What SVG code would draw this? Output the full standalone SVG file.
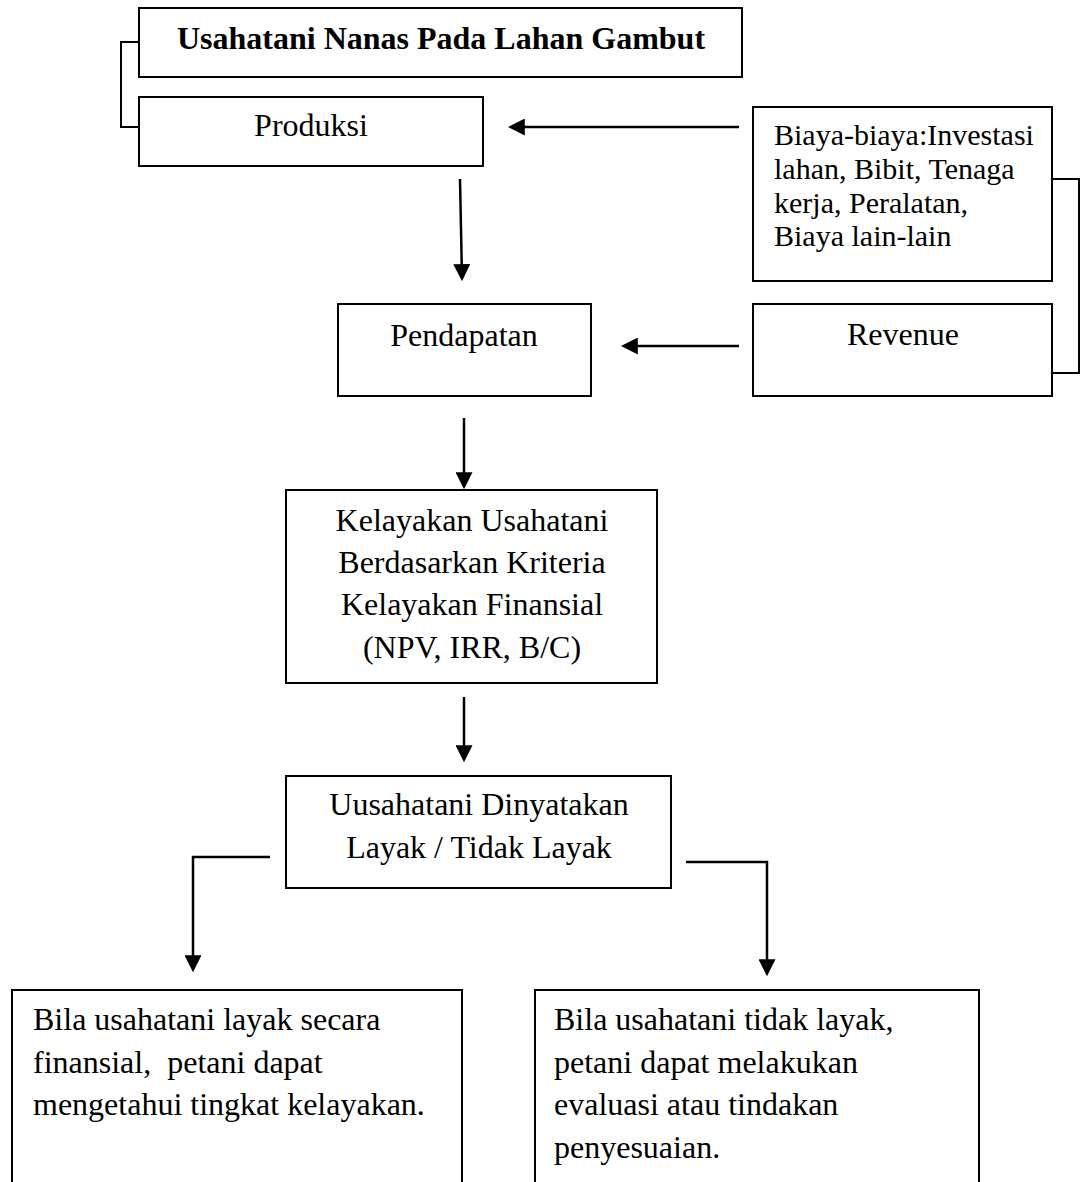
<svg xmlns="http://www.w3.org/2000/svg" width="1084" height="1182" viewBox="0 0 1084 1182">
<style>
.box{fill:#fff;stroke:#000;stroke-width:2}
.t{font-family:"Liberation Serif","Times New Roman",serif;font-size:32px;fill:#000}
.c{text-anchor:middle}
.b{font-weight:bold}
.s{font-size:30px}
.ln{fill:none;stroke:#000;stroke-width:2.5}
.br{fill:none;stroke:#000;stroke-width:2}
</style>
<defs>
<marker id="ah" markerUnits="userSpaceOnUse" markerWidth="17" markerHeight="17" viewBox="0 0 16 16" refX="13" refY="8" orient="auto">
<path d="M0,0 L16,8 L0,16 z" fill="#000"/>
</marker>
</defs>
<rect width="1084" height="1182" fill="#fff"/>
<g id="connectors">
<path class="br" d="M139,42 H121 V127 H139"/>
<path class="br" d="M1052,179 H1079 V373 H1052"/>
<line class="ln" x1="739" y1="127" x2="511" y2="127" marker-end="url(#ah)"/>
<line class="ln" x1="739" y1="346" x2="624" y2="346" marker-end="url(#ah)"/>
<line class="ln" x1="460" y1="179" x2="462" y2="278" marker-end="url(#ah)"/>
<line class="ln" x1="464" y1="418" x2="464" y2="486" marker-end="url(#ah)"/>
<line class="ln" x1="464" y1="697" x2="464" y2="759" marker-end="url(#ah)"/>
<path class="ln" d="M270,857 H193 V969" marker-end="url(#ah)"/>
<path class="ln" d="M686,862 H767 V973" marker-end="url(#ah)"/>
</g>
<g id="title">
<rect class="box" x="139" y="8" width="603" height="69"/>
<text class="t b c" x="441" y="49">Usahatani Nanas Pada Lahan Gambut</text>
</g>
<g id="produksi">
<rect class="box" x="139" y="97" width="344" height="69"/>
<text class="t c" x="311" y="136">Produksi</text>
</g>
<g id="biaya">
<rect class="box" x="753" y="107" width="299" height="174"/>
<text class="t s" x="774" y="145">Biaya-biaya:Investasi</text>
<text class="t s" x="774" y="179">lahan, Bibit, Tenaga</text>
<text class="t s" x="774" y="213">kerja, Peralatan,</text>
<text class="t s" x="774" y="246">Biaya lain-lain</text>
</g>
<g id="revenue">
<rect class="box" x="753" y="304" width="299" height="92"/>
<text class="t c" x="903" y="345">Revenue</text>
</g>
<g id="pendapatan">
<rect class="box" x="338" y="304" width="253" height="92"/>
<text class="t c" x="464" y="346">Pendapatan</text>
</g>
<g id="kelayakan">
<rect class="box" x="286" y="490" width="371" height="193"/>
<text class="t c" x="472" y="531">Kelayakan Usahatani</text>
<text class="t c" x="472" y="573">Berdasarkan Kriteria</text>
<text class="t c" x="472" y="615">Kelayakan Finansial</text>
<text class="t c" x="472" y="658">(NPV, IRR, B/C)</text>
</g>
<g id="dinyatakan">
<rect class="box" x="286" y="776" width="385" height="112"/>
<text class="t c" x="479" y="815">Uusahatani Dinyatakan</text>
<text class="t c" x="479" y="858">Layak / Tidak Layak</text>
</g>
<g id="layak">
<rect class="box" x="12" y="990" width="450" height="200"/>
<text class="t" x="33" y="1030">Bila usahatani layak secara</text>
<text class="t" x="33" y="1073" xml:space="preserve">finansial,  petani dapat</text>
<text class="t" x="33" y="1115">mengetahui tingkat kelayakan.</text>
</g>
<g id="tidaklayak">
<rect class="box" x="535" y="990" width="444" height="200"/>
<text class="t" x="554" y="1030">Bila usahatani tidak layak,</text>
<text class="t" x="554" y="1073">petani dapat melakukan</text>
<text class="t" x="554" y="1115">evaluasi atau tindakan</text>
<text class="t" x="554" y="1158">penyesuaian.</text>
</g>
</svg>
